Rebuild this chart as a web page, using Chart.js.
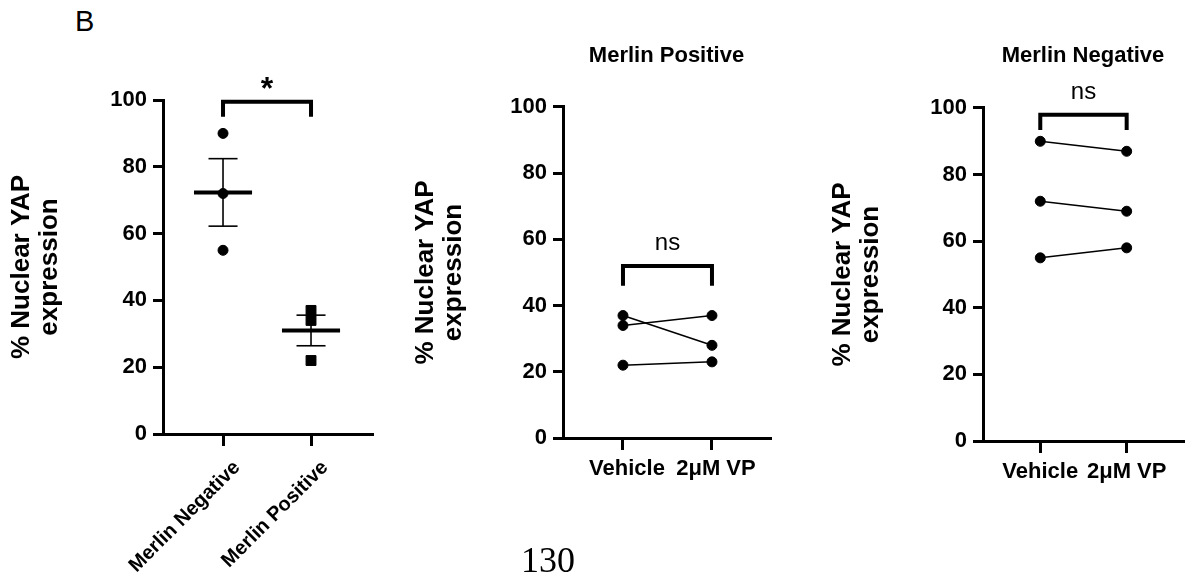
<!DOCTYPE html>
<html>
<head>
<meta charset="utf-8">
<script src="https://cdn.jsdelivr.net/npm/chart.js@4/dist/chart.umd.min.js"></script>
<style>
  html, body { margin: 0; padding: 0; background: #fff; }
  body { width: 1189px; height: 582px; position: relative; overflow: hidden;
         font-family: "Liberation Sans", Arial, sans-serif; color: #000; }
  canvas { position: absolute; top: 0; }
  #panelLabel { position: absolute; left: 75px; top: 7px; font-size: 29px; line-height: 1; }
  #pageNum { position: absolute; left: 521px; top: 542px; font-family: "Liberation Serif", "Times New Roman", serif;
             font-size: 36px; line-height: 1; }
</style>
</head>
<body>
<div id="panelLabel">B</div>
<canvas id="groupChart" width="400" height="582" style="left:0px"></canvas>
<canvas id="positiveChart" width="390" height="582" style="left:400px"></canvas>
<canvas id="negativeChart" width="389" height="582" style="left:800px"></canvas>
<div id="pageNum">130</div>

<script>
// ---- data ----
const groupLabels = ['Merlin Negative', 'Merlin Positive'];
const merlinNegative = [90, 72, 55];
const merlinPositive = [37, 34, 22];

const treatmentLabels = ['Vehicle', '2\u03BCM VP'];
const positiveVehicle = [37, 34, 22];
const positiveVP = [28, 37, 23];
const negativeVehicle = [90, 72, 55];
const negativeVP = [87, 69, 58];

const yTickValues = [0, 20, 40, 60, 80, 100];
const yTitle = ['% Nuclear YAP', 'expression'];

// significance brackets: [left x, right x, leg bottom, bracket top]
const groupBracket = [1, 2, 95, 99.5];
const positiveBracket = [1, 2, 46, 52];
const negativeBracket = [1, 2, 93.4, 98];

// ---- helpers ----
const FONT = '"Liberation Sans", Arial, sans-serif';
Chart.defaults.font.family = FONT;
Chart.defaults.color = '#000';

function mean(a) { return a.reduce((s, v) => s + v, 0) / a.length; }
function sem(a) {
  const m = mean(a);
  const v = a.reduce((s, x) => s + (x - m) * (x - m), 0) / (a.length - 1);
  return Math.sqrt(v / a.length);
}

const lineBase = {
  showLine: true, borderColor: '#000', pointRadius: 0, pointHoverRadius: 0,
  fill: false, clip: false, tension: 0, borderCapStyle: 'butt', borderJoinStyle: 'miter'
};

function bracketDataset(b) {
  const [x1, x2, leg, top] = b;
  return Object.assign({}, lineBase, {
    data: [{ x: x1, y: leg }, { x: x1, y: top }, { x: x2, y: top }, { x: x2, y: leg }],
    borderWidth: 4
  });
}

// mean line with SEM whiskers and caps
function summaryDatasets(values, pos) {
  const m = mean(values), e = sem(values);
  return [
    Object.assign({}, lineBase, { data: [{ x: pos - 0.33, y: m }, { x: pos + 0.33, y: m }], borderWidth: 4 }),
    Object.assign({}, lineBase, { data: [{ x: pos, y: m - e }, { x: pos, y: m + e }], borderWidth: 1.6 }),
    Object.assign({}, lineBase, { data: [{ x: pos - 0.165, y: m + e }, { x: pos + 0.165, y: m + e }], borderWidth: 1.6 }),
    Object.assign({}, lineBase, { data: [{ x: pos - 0.165, y: m - e }, { x: pos + 0.165, y: m - e }], borderWidth: 1.6 })
  ];
}

function pairedDatasets(before, after) {
  return before.map((v, i) => ({
    showLine: true, clip: false,
    data: [{ x: 1, y: v }, { x: 2, y: after[i] }],
    borderColor: '#000', borderWidth: 1.5,
    pointRadius: 5, pointBorderWidth: 1, pointBackgroundColor: '#000', pointBorderColor: '#000',
    pointHoverRadius: 5
  }));
}

// text above a significance bracket
const sigLabelPlugin = {
  id: 'sigLabel',
  afterDatasetsDraw(chart, args, opts) {
    const { ctx } = chart;
    const xs = chart.scales.x, ys = chart.scales.y;
    ctx.save();
    ctx.font = opts.font;
    ctx.fillStyle = '#000';
    ctx.textAlign = 'center';
    ctx.textBaseline = 'alphabetic';
    ctx.fillText(opts.text, xs.getPixelForValue(opts.x), ys.getPixelForValue(opts.y) - opts.gap);
    ctx.restore();
  }
};

function makeScales(cfg) {
  return {
    x: {
      type: 'linear', min: cfg.xMin, max: cfg.xMax,
      afterBuildTicks: s => { s.ticks = [{ value: 1 }, { value: 2 }]; },
      afterFit: s => { s.height = cfg.xHeight; },
      ticks: {
        autoSkip: false,
        callback: (v, i) => cfg.labels[i],
        font: { size: cfg.xFont, weight: 'bold' },
        color: '#000',
        padding: cfg.xPad,
        labelOffset: cfg.labelOffset,
        minRotation: cfg.rotation, maxRotation: cfg.rotation
      },
      grid: { drawOnChartArea: false, drawTicks: true, tickLength: 12, lineWidth: 3, color: '#000' },
      border: { display: true, width: 3, color: '#000' }
    },
    y: {
      type: 'linear', min: 0, max: 100,
      afterBuildTicks: s => { s.ticks = yTickValues.map(v => ({ value: v })); },
      afterFit: s => { s.width = cfg.yWidth; },
      ticks: { font: { size: 22, weight: 'bold' }, color: '#000', padding: 6 },
      grid: { drawOnChartArea: false, drawTicks: true, tickLength: 10, lineWidth: 3, color: '#000' },
      border: { display: true, width: 3, color: '#000' },
      title: {
        display: true, text: yTitle, color: '#000',
        font: { size: 26, weight: 'bold', lineHeight: 1.05 },
        padding: { top: cfg.yTitlePad, bottom: 0 }
      }
    }
  };
}

function baseOptions(cfg) {
  return {
    responsive: false, animation: false, devicePixelRatio: 1,
    layout: { padding: cfg.padding },
    scales: makeScales(cfg),
    plugins: {
      legend: { display: false },
      tooltip: { enabled: false },
      title: cfg.title ? {
        display: true, text: cfg.title, color: '#000', fullSize: false,
        font: { size: 22, weight: 'bold', lineHeight: 1.2 },
        padding: { top: 0, bottom: cfg.titleGap }
      } : { display: false },
      sigLabel: cfg.sig
    }
  };
}

// ---- left: group comparison ----
new Chart(document.getElementById('groupChart'), {
  type: 'scatter',
  data: {
    datasets: [
      {
        data: merlinNegative.map(v => ({ x: 1, y: v })),
        pointStyle: 'circle', pointRadius: 5, pointBorderWidth: 1,
        pointBackgroundColor: '#000', pointBorderColor: '#000', clip: false
      },
      {
        data: merlinPositive.map(v => ({ x: 2, y: v })),
        pointStyle: 'rect', pointRadius: 7, pointBorderWidth: 1,
        pointBackgroundColor: '#000', pointBorderColor: '#000', clip: false
      },
      ...summaryDatasets(merlinNegative, 1),
      ...summaryDatasets(merlinPositive, 2),
      bracketDataset(groupBracket)
    ]
  },
  options: baseOptions({
    xMin: 0.318, xMax: 2.693, xHeight: 148, yWidth: 163, yTitlePad: 8.4,
    labels: groupLabels, xFont: 20, xPad: 10, labelOffset: 14, rotation: 45,
    padding: { top: 100, left: 0, right: 28, bottom: 0 },
    sig: { text: '*', x: 1.5, y: groupBracket[3], gap: 3, font: 'bold 32px ' + FONT }
  }),
  plugins: [sigLabelPlugin]
});

// ---- middle: Merlin Positive, vehicle vs VP ----
new Chart(document.getElementById('positiveChart'), {
  type: 'scatter',
  data: { datasets: [...pairedDatasets(positiveVehicle, positiveVP), bracketDataset(positiveBracket)] },
  options: baseOptions({
    xMin: 0.326, xMax: 2.652, xHeight: 144, yWidth: 163, yTitlePad: 12.4,
    labels: treatmentLabels, xFont: 22, xPad: 6, labelOffset: 4, rotation: 0,
    padding: { top: 42.3, left: 0, right: 20, bottom: 0 },
    title: 'Merlin Positive', titleGap: 38.3,
    sig: { text: 'ns', x: 1.5, y: positiveBracket[3], gap: 16, font: '24px ' + FONT }
  }),
  plugins: [sigLabelPlugin]
});

// ---- right: Merlin Negative, vehicle vs VP ----
new Chart(document.getElementById('negativeChart'), {
  type: 'scatter',
  data: { datasets: [...pairedDatasets(negativeVehicle, negativeVP), bracketDataset(negativeBracket)] },
  options: baseOptions({
    xMin: 0.337, xMax: 2.652, xHeight: 141, yWidth: 183, yTitlePad: 29.4,
    labels: treatmentLabels, xFont: 22, xPad: 6, labelOffset: 0, rotation: 0,
    padding: { top: 42.3, left: 0, right: 0, bottom: 0 },
    title: 'Merlin Negative', titleGap: 39.3,
    sig: { text: 'ns', x: 1.5, y: negativeBracket[3], gap: 16, font: '24px ' + FONT }
  }),
  plugins: [sigLabelPlugin]
});
</script>
</body>
</html>
